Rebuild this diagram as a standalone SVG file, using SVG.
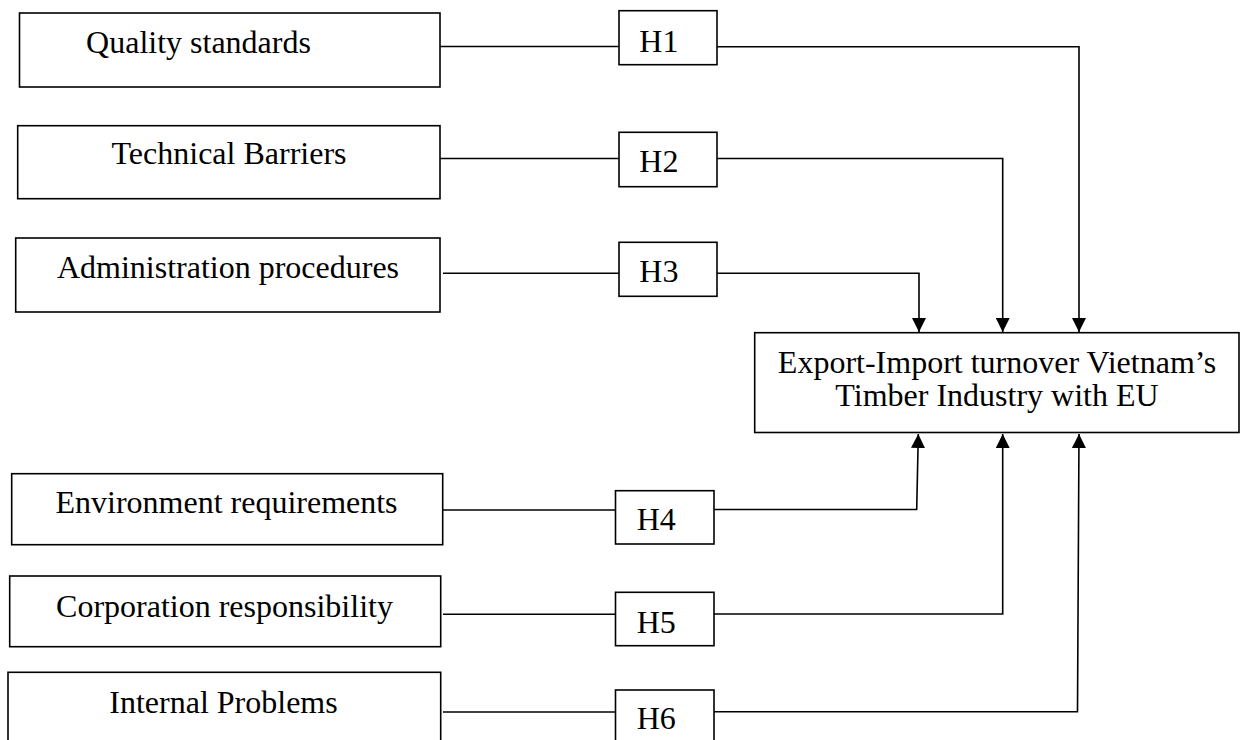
<svg xmlns="http://www.w3.org/2000/svg" width="1244" height="740" viewBox="0 0 1244 740">
<style>
.box{fill:#fff;stroke:#000;stroke-width:1.6}
.t{font-family:"Liberation Serif","Times New Roman",serif;font-size:32px;fill:#000}
.m{text-anchor:middle}
.c{fill:none;stroke:#000;stroke-width:1.6}
</style>
<defs>
<marker id="arr" markerUnits="userSpaceOnUse" markerWidth="14" markerHeight="14" refX="14" refY="7" orient="auto" viewBox="0 0 14 14">
<path d="M0,0 L14,7 L0,14 z" fill="#000"/>
</marker>
</defs>
<rect width="1244" height="740" fill="#fff"/>
<g id="connectors">
<line class="c" x1="440" y1="46.5" x2="619" y2="46.5"/>
<line class="c" x1="440" y1="158.5" x2="619" y2="158.5"/>
<line class="c" x1="443" y1="273.3" x2="619" y2="273.3"/>
<line class="c" x1="442.5" y1="510" x2="615.5" y2="510"/>
<line class="c" x1="443" y1="614.3" x2="615.5" y2="614.3"/>
<line class="c" x1="443" y1="712" x2="615.5" y2="712"/>
<path class="c" d="M717,46.7 H1079 V332" marker-end="url(#arr)"/>
<path class="c" d="M717,158.5 H1002.7 V332" marker-end="url(#arr)"/>
<path class="c" d="M717,273.3 H919 V332" marker-end="url(#arr)"/>
<path class="c" d="M714,509.5 H916.7 L918.3,434" marker-end="url(#arr)"/>
<path class="c" d="M714,614 H1002.7 V434" marker-end="url(#arr)"/>
<path class="c" d="M714,711.7 H1077.5 L1079,434" marker-end="url(#arr)"/>
</g>
<g id="quality">
<rect class="box" x="19.5" y="13" width="420.5" height="74"/>
<text class="t m" x="198.5" y="53">Quality standards</text>
</g>
<g id="technical">
<rect class="box" x="17.7" y="125.7" width="422.3" height="73"/>
<text class="t m" x="229" y="164">Technical Barriers</text>
</g>
<g id="administration">
<rect class="box" x="15.7" y="238" width="424.3" height="74"/>
<text class="t m" x="228" y="278">Administration procedures</text>
</g>
<g id="environment">
<rect class="box" x="11.7" y="473.7" width="431" height="71"/>
<text class="t m" x="226.5" y="513.3">Environment requirements</text>
</g>
<g id="corporation">
<rect class="box" x="9.7" y="576" width="431" height="70.7"/>
<text class="t m" x="224.5" y="616.7">Corporation responsibility</text>
</g>
<g id="internal">
<rect class="box" x="8" y="672.3" width="432.7" height="80"/>
<text class="t m" x="223.5" y="712.7">Internal Problems</text>
</g>
<g id="h1">
<rect class="box" x="619" y="10.7" width="98" height="54"/>
<text class="t" x="639.3" y="51.7">H1</text>
</g>
<g id="h2">
<rect class="box" x="619" y="132.3" width="98" height="54.4"/>
<text class="t" x="639.3" y="171.7">H2</text>
</g>
<g id="h3">
<rect class="box" x="619" y="242.3" width="98" height="54"/>
<text class="t" x="639.3" y="281.7">H3</text>
</g>
<g id="h4">
<rect class="box" x="615.5" y="490.7" width="98.5" height="53.3"/>
<text class="t" x="636.7" y="530">H4</text>
</g>
<g id="h5">
<rect class="box" x="615.5" y="592.3" width="98.5" height="53.4"/>
<text class="t" x="636.7" y="632.5">H5</text>
</g>
<g id="h6">
<rect class="box" x="615.5" y="690" width="98.5" height="60"/>
<text class="t" x="636.7" y="729.3">H6</text>
</g>
<g id="outcome">
<rect class="box" x="754.7" y="332.7" width="484.3" height="99.8"/>
<text class="t m" x="997" y="372.7">Export-Import turnover Vietnam’s</text>
<text class="t m" x="997" y="406">Timber Industry with EU</text>
</g>
</svg>
